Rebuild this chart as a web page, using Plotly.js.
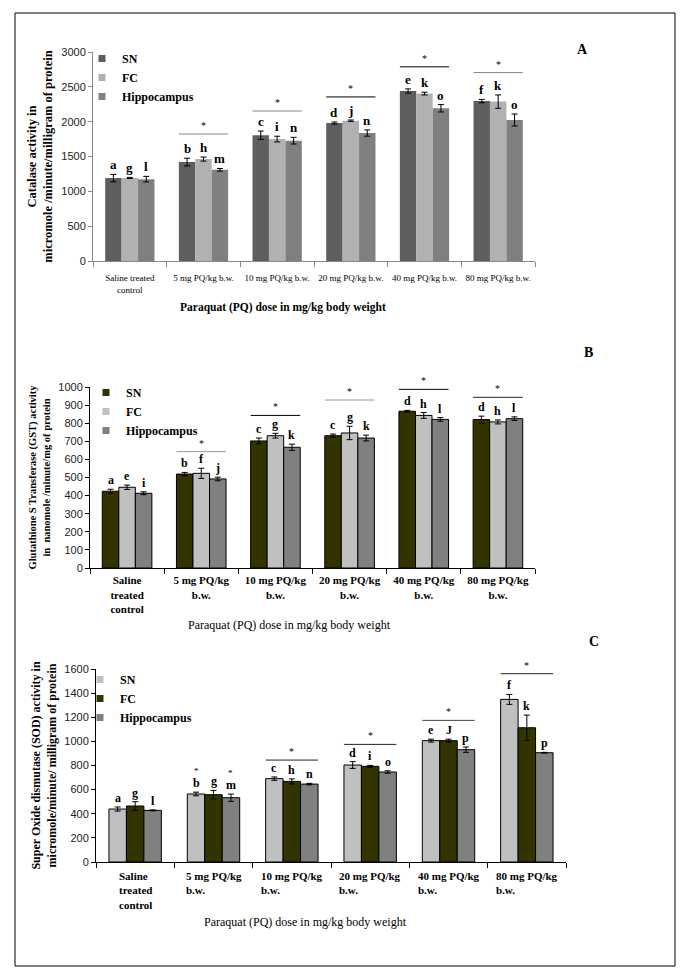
<!DOCTYPE html>
<html><head><meta charset="utf-8">
<script src="https://cdn.plot.ly/plotly-3.0.1.min.js"></script>
<style>html,body{margin:0;padding:0;background:#fff}</style>
</head><body><div id="chart" style="width:685px;height:975px"></div>
<script>
// ---------- data ----------
const categories = ['Saline treated control','5 mg PQ/kg b.w.','10 mg PQ/kg b.w.','20 mg PQ/kg b.w.','40 mg PQ/kg b.w.','80 mg PQ/kg b.w.'];
const tickLabelsA = ['Saline treated<br>control','5 mg PQ/kg b.w.','10 mg PQ/kg b.w.','20 mg PQ/kg b.w.','40 mg PQ/kg b.w.','80 mg PQ/kg b.w.'];
const tickLabelsB = ['Saline<br>treated<br>control','5 mg PQ/kg<br>b.w.','10 mg PQ/kg<br>b.w.','20 mg PQ/kg<br>b.w.','40 mg PQ/kg<br>b.w.','80 mg PQ/kg<br>b.w.'];
const tickLabelsC = ['Saline<br>treated<br>control','5 mg PQ/kg<br>b.w.','10 mg PQ/kg<br>b.w.','20 mg PQ/kg<br>b.w.','40 mg PQ/kg<br>b.w.','80 mg PQ/kg<br>b.w.'];
const seriesNames = ['SN','FC','Hippocampus'];

// Panel A: Catalase
const catalaseSN = [1190, 1420, 1805, 1980, 2440, 2295];
const catalaseSNErr = [53, 55, 60, 15, 30, 24];
const catalaseFC = [1192, 1463, 1750, 2014, 2403, 2288];
const catalaseFCErr = [8, 29, 41, 10, 20, 96];
const catalaseHip = [1175, 1309, 1727, 1837, 2192, 2024];
const catalaseHipErr = [40, 19, 48, 45, 53, 86];
const catalaseLettersSN = ['a','b','c','d','e','f'];
const catalaseLettersFC = ['g','h','i','j','k','k'];
const catalaseLettersHip = ['l','m','n','n','o','o'];
const catalaseSigLine = [null, 1823, 2153, 2355, 2787, 2705];

// Panel B: GST
const gstSN = [424, 519, 702, 731, 866, 820];
const gstSNErr = [11, 9, 16, 9, 5, 19];
const gstFC = [446, 523, 731, 746, 843, 807];
const gstFCErr = [12, 28, 13, 37, 16, 11];
const gstHip = [413, 492, 667, 718, 821, 825];
const gstHipErr = [8, 10, 17, 16, 10, 10];
const gstLettersSN = ['a','b','c','c','d','d'];
const gstLettersFC = ['e','f','g','g','h','h'];
const gstLettersHip = ['i','j','k','k','l','l'];
const gstSigLine = [null, 643, 843, 928, 987, 943];

// Panel C: SOD
const sodSN = [439, 564, 691, 804, 1006, 1348];
const sodSNErr = [17, 15, 14, 28, 12, 41];
const sodFC = [464, 558, 668, 793, 1006, 1113];
const sodFCErr = [36, 35, 21, 8, 12, 105];
const sodHip = [428, 533, 646, 746, 931, 906];
const sodHipErr = [4, 30, 6, 10, 22, 3];
const sodLettersSN = ['a','b','c','d','e','f'];
const sodLettersFC = ['g','g','h','i','J','k'];
const sodLettersHip = ['l','m','n','o','p','p'];
const sodStarSN = [false, true, false, false, false, false];
const sodStarFC = [false, false, false, false, false, false];
const sodStarHip = [false, true, false, false, false, false];
const sodSigLine = [null, null, 845, 975, 1174, 1561];

// ---------- styling ----------
const SERIF = 'Liberation Serif, Times New Roman, serif';
const NARROW = 'Liberation Sans Narrow, Arial Narrow, Liberation Sans, Arial, sans-serif';
const W = 685, H = 975;
const px = v => v / W;
const py = v => 1 - v / H;
const BW = 0.223;                 // bar width (category units)
const offs = [-1.5 * BW, -0.5 * BW, 0.5 * BW];

const panels = [
  { xa: 'x', ya: 'y', legend: 'legend',
    vals: [catalaseSN, catalaseFC, catalaseHip], errs: [catalaseSNErr, catalaseFCErr, catalaseHipErr],
    letters: [catalaseLettersSN, catalaseLettersFC, catalaseLettersHip], stars: null,
    sig: catalaseSigLine, sigColors: [null, '#888', '#888', '#000', '#000', '#888'],
    colors: ['#5e5e5e', '#b1b1b1', '#808080'], outline: 0, letterSize: 13 },
  { xa: 'x2', ya: 'y2', legend: 'legend2',
    vals: [gstSN, gstFC, gstHip], errs: [gstSNErr, gstFCErr, gstHipErr],
    letters: [gstLettersSN, gstLettersFC, gstLettersHip], stars: null,
    sig: gstSigLine, sigColors: [null, '#999', '#000', '#999', '#000', '#222'],
    colors: ['#333300', '#c0c0c0', '#808080'], outline: 1, letterSize: 12 },
  { xa: 'x3', ya: 'y3', legend: 'legend3',
    vals: [sodSN, sodFC, sodHip], errs: [sodSNErr, sodFCErr, sodHipErr],
    letters: [sodLettersSN, sodLettersFC, sodLettersHip], stars: [sodStarSN, sodStarFC, sodStarHip],
    sig: sodSigLine, sigColors: [null, null, '#222', '#222', '#444', '#222'],
    colors: ['#c0c0c0', '#333300', '#808080'], outline: 1, letterSize: 12 }
];

const traces = [];
const annotations = [];
const shapes = [];

panels.forEach(p => {
  seriesNames.forEach((name, s) => {
    traces.push({
      type: 'bar', name: name, x: categories, y: p.vals[s],
      xaxis: p.xa, yaxis: p.ya, showlegend: false,
      width: BW, offset: offs[s],
      marker: { color: p.colors[s], line: { color: '#000', width: p.outline } },
      error_y: { type: 'data', array: p.errs[s], visible: true, color: '#000', thickness: 1, width: 3 },
      hoverinfo: 'y+name'
    });
    // legend entry with a small square swatch, like the figure
    traces.push({
      type: 'scatter', mode: 'markers', name: name, x: [null], y: [null],
      xaxis: p.xa, yaxis: p.ya, legend: p.legend, showlegend: true, hoverinfo: 'skip',
      marker: { symbol: 'square', size: 7, color: p.colors[s], line: { width: 0 } }
    });
    categories.forEach((c, i) => {
      const top = p.vals[s][i] + p.errs[s][i];
      annotations.push({
        xref: p.xa, yref: p.ya, x: i + offs[s] + BW / 2, y: top,
        text: '<b>' + p.letters[s][i] + '</b>', showarrow: false,
        yanchor: 'bottom', yshift: 0,
        font: { family: SERIF, size: p.letterSize, color: '#000' }
      });
      if (p.stars && p.stars[s][i]) {
        annotations.push({
          xref: p.xa, yref: p.ya, x: i + offs[s] + BW / 2, y: top,
          text: '*', showarrow: false, yanchor: 'bottom', yshift: 14,
          font: { family: SERIF, size: 9, color: '#000' }
        });
      }
    });
  });
  p.sig.forEach((v, i) => {
    if (v === null) return;
    shapes.push({ type: 'line', xref: p.xa, yref: p.ya, x0: i - 1.5 * BW, x1: i + 1.5 * BW, y0: v, y1: v,
      line: { color: p.sigColors[i], width: 1 } });
    annotations.push({ xref: p.xa, yref: p.ya, x: i, y: v, text: '*', showarrow: false,
      yanchor: 'bottom', yshift: 1, font: { family: SERIF, size: 10, color: '#000' } });
  });
});

// Category labels for panel C (left-aligned lines)
tickLabelsC.forEach((t, i) => {
  annotations.push({ xref: 'x3', yref: 'y3', x: i, y: 0, text: '<b>' + t + '</b>', showarrow: false,
    xanchor: 'center', yanchor: 'top', align: 'left', yshift: -6,
    font: { family: SERIF, size: 11, color: '#000' } });
});

// X-axis titles (left of centre, as in the figure)
const xTitles = [
  ['<b>Paraquat (PQ) dose in mg/kg body weight</b>', 283, 307, 11.5],
  ['Paraquat (PQ) dose in mg/kg body weight', 289, 625, 12],
  ['Paraquat (PQ) dose in mg/kg body weight', 305, 922, 12]
];
xTitles.forEach(([t, x, y, fs]) => {
  annotations.push({ xref: 'paper', yref: 'paper', x: px(x), y: py(y), xanchor: 'center', yanchor: 'middle',
    text: t, showarrow: false, font: { family: SERIF, size: fs, color: '#000' } });
});
// Panel letters
[['A', 582, 49], ['B', 588, 353], ['C', 594, 641]].forEach(([t, x, y]) => {
  annotations.push({ xref: 'paper', yref: 'paper', x: px(x), y: py(y), xanchor: 'center', yanchor: 'middle',
    text: '<b>' + t + '</b>', showarrow: false, font: { family: SERIF, size: 14, color: '#000' } });
});

// Frame
shapes.push({ type: 'rect', xref: 'paper', yref: 'paper', x0: px(15), x1: px(675), y0: py(966), y1: py(13),
  line: { color: '#000', width: 1 } });

function xAxis(dom, labels, lineColor, font, anchor, standoff) {
  return { domain: dom, anchor: anchor, type: 'category', categoryorder: 'array', categoryarray: categories,
    range: [-0.5, 5.5], tickson: 'boundaries', ticks: 'outside', ticklen: 5, tickcolor: lineColor,
    showline: true, linecolor: lineColor, linewidth: 1, showgrid: false, zeroline: false,
    tickvals: categories, ticktext: labels, tickangle: 0, tickfont: font, ticklabelstandoff: standoff,
    fixedrange: true };
}
function yAxis(dom, range, dtick, title, titleSize, lineColor, anchor) {
  return { domain: dom, anchor: anchor, range: range, dtick: dtick, ticks: 'outside', ticklen: 4,
    tickcolor: lineColor, showline: true, linecolor: lineColor, linewidth: 1, showgrid: false, zeroline: false,
    tickfont: { family: NARROW, size: 11, color: '#222' },
    title: { text: title, font: { family: SERIF, size: titleSize, color: '#000' }, standoff: 5 }, fixedrange: true };
}

const legendBase = { xanchor: 'left', yanchor: 'top', bgcolor: 'rgba(0,0,0,0)', tracegroupgap: 0,
  itemwidth: 30, traceorder: 'normal', itemclick: false, itemdoubleclick: false };
const legendFont = { family: SERIF, size: 12, color: '#000', weight: 'bold' };

const layout = {
  width: W, height: H, margin: { l: 0, r: 0, t: 0, b: 0 },
  paper_bgcolor: '#fff', plot_bgcolor: '#fff', barmode: 'overlay', showlegend: true,
  xaxis: xAxis([px(93), px(535)], tickLabelsA, '#888', { family: SERIF, size: 9, color: '#000' }, 'y', 8),
  yaxis: yAxis([py(261), py(52)], [0, 3000], 500, '<b>Catalase activity in<br>micromole /minute/milligram of protein</b>', 12.5, '#888', 'x'),
  xaxis2: xAxis([px(90), px(535)], tickLabelsB, '#000', { family: SERIF, size: 11, color: '#000', weight: 'bold' }, 'y2', 2),
  yaxis2: yAxis([py(568), py(387)], [0, 1000], 100, '<b>Glutathione S Transferase (GST) activity<br>in  nanomole /minute/mg of protein</b>', 10.5, '#000', 'x2'),
  xaxis3: Object.assign(xAxis([px(96), px(566)], tickLabelsC, '#000', { family: SERIF, size: 11, color: '#000' }, 'y3', 2), { showticklabels: false }),
  yaxis3: yAxis([py(862), py(669)], [0, 1600], 200, '<b>Super Oxide dismutase (SOD) activity in<br>micromole/minute/ milligram of protein</b>', 12, '#000', 'x3'),
  legend: Object.assign({}, legendBase, { x: px(82), y: py(44), font: legendFont }),
  legend2: Object.assign({}, legendBase, { x: px(86), y: py(378), font: legendFont }),
  legend3: Object.assign({}, legendBase, { x: px(80), y: py(665), font: legendFont }),
  annotations: annotations, shapes: shapes
};

Plotly.newPlot('chart', traces, layout, { displayModeBar: false, responsive: false });
</script>
</body></html>
